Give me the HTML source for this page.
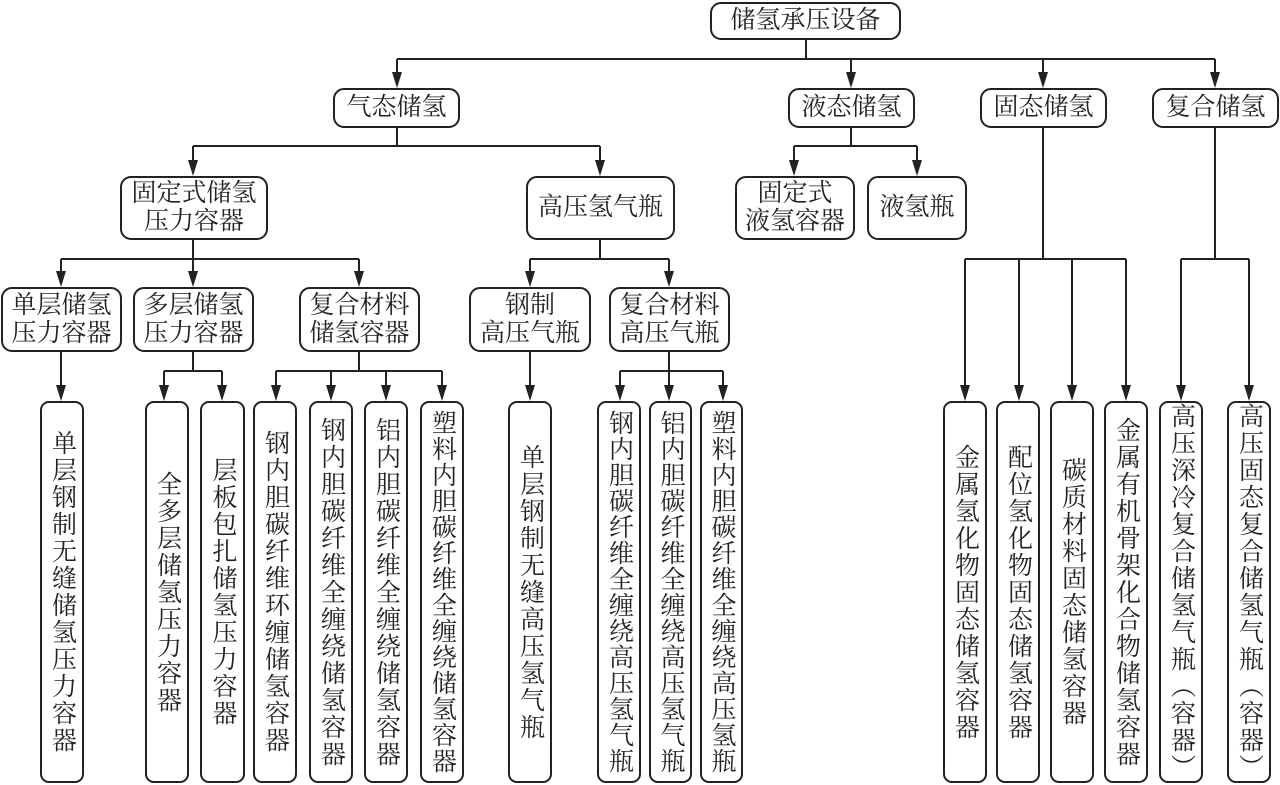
<!DOCTYPE html>
<html><head><meta charset="utf-8">
<style>
html,body{margin:0;padding:0;background:#fff;}
body{width:1280px;height:785px;position:relative;overflow:hidden;font-family:"Liberation Serif","Noto Serif CJK SC",serif;color:#222;}
.b{position:absolute;box-sizing:border-box;border:2px solid #222;border-radius:11px;background:#fff;display:flex;align-items:center;justify-content:center;text-align:center;font-size:25px;line-height:28px;}
.v{position:absolute;box-sizing:border-box;border:2px solid #222;border-radius:9px;background:#fff;display:flex;align-items:center;justify-content:center;font-size:25px;}
.v span{writing-mode:vertical-rl;letter-spacing:2px;line-height:1;}
svg{position:absolute;left:0;top:0;}
</style></head><body>
<svg width="1280" height="785" stroke="#222" stroke-width="2" fill="#222">
<g fill="none">
<path d="M806 40V59M397 59H1215"/>
<path d="M397 59V76M851 59V76M1043 59V76M1215 59V76"/>
<path d="M397 128V146M193 146H600M193 146V164M600 146V164"/>
<path d="M851 128V146M794 146H917M794 146V164M917 146V164"/>
<path d="M1043 128V259M965 259H1126M965 259V389M1019 259V389M1072 259V389M1126 259V389"/>
<path d="M1215 128V259M1181 259H1249M1181 259V389M1249 259V389"/>
<path d="M193 240V259M61 259H359M61 259V275M193 259V275M359 259V275"/>
<path d="M600 240V259M530 259H669M530 259V275M669 259V275"/>
<path d="M61 352V389M530 352V389"/>
<path d="M193 352V371M164 371H222M164 371V389M222 371V389"/>
<path d="M359 352V371M276 371H442M276 371V389M331 371V389M386 371V389M442 371V389"/>
<path d="M669 352V371M620 371H723M620 371V389M669 371V389M723 371V389"/>
</g>
<g stroke="none">
<polygon points="392,72 402,72 397,88"/><polygon points="846,72 856,72 851,88"/><polygon points="1038,72 1048,72 1043,88"/><polygon points="1210,72 1220,72 1215,88"/>
<polygon points="188,160 198,160 193,176"/><polygon points="595,160 605,160 600,176"/><polygon points="789,160 799,160 794,176"/><polygon points="912,160 922,160 917,176"/>
<polygon points="56,271 66,271 61,287"/><polygon points="188,271 198,271 193,287"/><polygon points="354,271 364,271 359,287"/><polygon points="525,271 535,271 530,287"/><polygon points="664,271 674,271 669,287"/>
<polygon points="56,385 66,385 61,401"/><polygon points="159,385 169,385 164,401"/><polygon points="217,385 227,385 222,401"/><polygon points="271,385 281,385 276,401"/><polygon points="326,385 336,385 331,401"/><polygon points="381,385 391,385 386,401"/><polygon points="437,385 447,385 442,401"/><polygon points="525,385 535,385 530,401"/><polygon points="615,385 625,385 620,401"/><polygon points="664,385 674,385 669,401"/><polygon points="718,385 728,385 723,401"/>
<polygon points="960,385 970,385 965,401"/><polygon points="1014,385 1024,385 1019,401"/><polygon points="1067,385 1077,385 1072,401"/><polygon points="1121,385 1131,385 1126,401"/><polygon points="1176,385 1186,385 1181,401"/><polygon points="1244,385 1254,385 1249,401"/>
</g>
</svg>

<div class="b" style="left:710px;top:2px;width:191px;height:38px;">储氢承压设备</div>
<div class="b" style="left:333px;top:88px;width:127px;height:40px;">气态储氢</div>
<div class="b" style="left:788px;top:88px;width:127px;height:40px;">液态储氢</div>
<div class="b" style="left:980px;top:88px;width:127px;height:40px;">固态储氢</div>
<div class="b" style="left:1152px;top:88px;width:127px;height:40px;">复合储氢</div>

<div class="b" style="left:120px;top:176px;width:148px;height:64px;">固定式储氢<br>压力容器</div>
<div class="b" style="left:526px;top:176px;width:149px;height:64px;">高压氢气瓶</div>
<div class="b" style="left:735px;top:176px;width:120px;height:64px;">固定式<br>液氢容器</div>
<div class="b" style="left:867px;top:176px;width:100px;height:64px;">液氢瓶</div>

<div class="b" style="left:1px;top:287px;width:121px;height:65px;">单层储氢<br>压力容器</div>
<div class="b" style="left:133px;top:287px;width:121px;height:65px;">多层储氢<br>压力容器</div>
<div class="b" style="left:299px;top:287px;width:121px;height:65px;">复合材料<br>储氢容器</div>
<div class="b" style="left:469px;top:287px;width:122px;height:65px;">钢制<br>高压气瓶</div>
<div class="b" style="left:609px;top:287px;width:121px;height:65px;">复合材料<br>高压气瓶</div>

<div class="v" style="left:40px;top:401px;width:44px;height:382px;"><span>单层钢制无缝储氢压力容器</span></div>
<div class="v" style="left:145px;top:401px;width:44px;height:382px;"><span>全多层储氢压力容器</span></div>
<div class="v" style="left:200px;top:401px;width:45px;height:382px;"><span>层板包扎储氢压力容器</span></div>
<div class="v" style="left:253px;top:401px;width:44px;height:382px;"><span>钢内胆碳纤维环缠储氢容器</span></div>
<div class="v" style="left:309px;top:401px;width:44px;height:382px;"><span>钢内胆碳纤维全缠绕储氢容器</span></div>
<div class="v" style="left:364px;top:401px;width:44px;height:382px;"><span>铝内胆碳纤维全缠绕储氢容器</span></div>
<div class="v" style="left:420px;top:401px;width:44px;height:382px;"><span style="letter-spacing:1px">塑料内胆碳纤维全缠绕储氢容器</span></div>
<div class="v" style="left:508px;top:401px;width:44px;height:382px;"><span>单层钢制无缝高压氢气瓶</span></div>
<div class="v" style="left:597px;top:401px;width:44px;height:382px;"><span style="letter-spacing:1px">钢内胆碳纤维全缠绕高压氢气瓶</span></div>
<div class="v" style="left:649px;top:401px;width:43px;height:382px;"><span style="letter-spacing:1px">铝内胆碳纤维全缠绕高压氢气瓶</span></div>
<div class="v" style="left:700px;top:401px;width:43px;height:382px;"><span style="letter-spacing:1px">塑料内胆碳纤维全缠绕高压氢瓶</span></div>

<div class="v" style="left:943px;top:401px;width:44px;height:382px;"><span>金属氢化物固态储氢容器</span></div>
<div class="v" style="left:996px;top:401px;width:44px;height:382px;"><span>配位氢化物固态储氢容器</span></div>
<div class="v" style="left:1050px;top:401px;width:44px;height:382px;"><span>碳质材料固态储氢容器</span></div>
<div class="v" style="left:1104px;top:401px;width:44px;height:382px;"><span>金属有机骨架化合物储氢容器</span></div>
<div class="v" style="left:1159px;top:401px;width:44px;height:382px;"><span>高压深冷复合储氢气瓶（容器）</span></div>
<div class="v" style="left:1227px;top:401px;width:44px;height:382px;"><span>高压固态复合储氢气瓶（容器）</span></div>
</body></html>
